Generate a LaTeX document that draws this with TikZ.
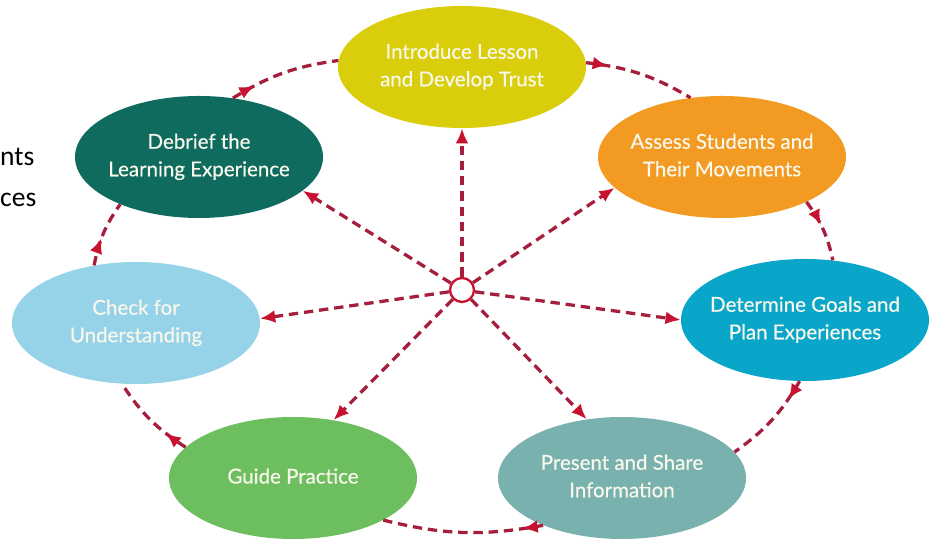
\documentclass[tikz,border=0pt]{standalone}
\usepackage{fontspec}
\setmainfont{Lato}
\newfontfamily\stepfont{Lato}[FakeBold=0.5]
\newfontfamily\sidefont{Carlito}
\usetikzlibrary{shapes.geometric,arrows.meta,decorations.markings}
\definecolor{dashred}{RGB}{165,30,60}
\definecolor{tipred}{RGB}{200,18,50}
\definecolor{cyellow}{RGB}{218,206,12}
\definecolor{cteal}{RGB}{14,107,94}
\definecolor{corange}{RGB}{243,154,34}
\definecolor{ccyan}{RGB}{10,166,201}
\definecolor{clight}{RGB}{150,210,232}
\definecolor{cgreen}{RGB}{109,190,95}
\definecolor{cgray}{RGB}{121,177,174}
\definecolor{ctext}{RGB}{248,248,236}
\newcommand{\steplabel}[1]{\makebox[0pt]{\begin{tabular}{@{}c@{}}#1\end{tabular}}}

\begin{document}
\begin{tikzpicture}[x=0.03cm,y=0.03cm,
    stepnode/.style={ellipse,fill=#1,minimum width=7.44cm,minimum height=3.66cm,
        inner sep=0pt,text=ctext,font=\stepfont\fontsize{17.5}{23.5}\selectfont},
    spoke/.style={draw=dashred,line width=2.8pt,dash pattern=on 8pt off 5pt,
        -{Latex[length=13pt,width=11pt,color=tipred]}},
    loopline/.style={draw=dashred,line width=2.8pt,dash pattern=on 8pt off 5pt,
        postaction={decorate},decoration={markings,
        mark=at position #1 with {\arrow{Latex[length=13pt,width=11pt,color=tipred]}}}}]
    \useasboundingbox (0,0) rectangle (932,540);
    % cut-off text at the left
    \node[anchor=base west,inner sep=0pt,font=\sidefont\fontsize{23.5}{28}\selectfont] (nts) at (0,374) {nts};
    \node[anchor=base west,inner sep=0pt,font=\sidefont\fontsize{23.5}{28}\selectfont] (ces) at (0,333) {ces};
    % the seven steps
    \node[stepnode=cyellow] (intro) at (462,473) {\steplabel{Introduce Lesson\\and Develop Trust}};
    \node[stepnode=corange] (assess) at (722,383) {\steplabel{Assess Students and\\Their Movements}};
    \node[stepnode=ccyan] (determ) at (805,220) {\steplabel{Determine Goals and\\Plan Experiences}};
    \node[stepnode=cgray] (present) at (622,62) {\steplabel{Present and Share\\Information}};
    \node[stepnode=cgreen] (guide) at (293,62) {\steplabel{Guide Practice}};
    \node[stepnode=clight] (check) at (136,217) {\steplabel{Check for\\Understanding}};
    \node[stepnode=cteal] (debrief) at (199,383) {\steplabel{Debrief the\\Learning Experience}};
    \node[circle,draw=tipred,line width=2pt,fill=white,minimum size=0.72cm,inner sep=0pt] (hub) at (462,250) {};
    % spokes
    \foreach \t/\a in {intro/270,assess/196,determ/180,present/121,guide/55,check/2,debrief/342}
        \draw[spoke] (hub) -- (\t.\a);
    % outer cycle
    \foreach \s/\sa/\e/\ea/\p in {debrief/60/intro/177/0.22,intro/2/assess/118/0.2,
        assess/332/determ/65/0.42,determ/265/present/13/0.22,present/211/guide/335/0.13,
        guide/164/check/257/0.27,check/126/debrief/211.5/0.42}
        \draw[loopline=\p] (\s.\sa) to[bend left=12] (\e.\ea);
\end{tikzpicture}
\end{document}
